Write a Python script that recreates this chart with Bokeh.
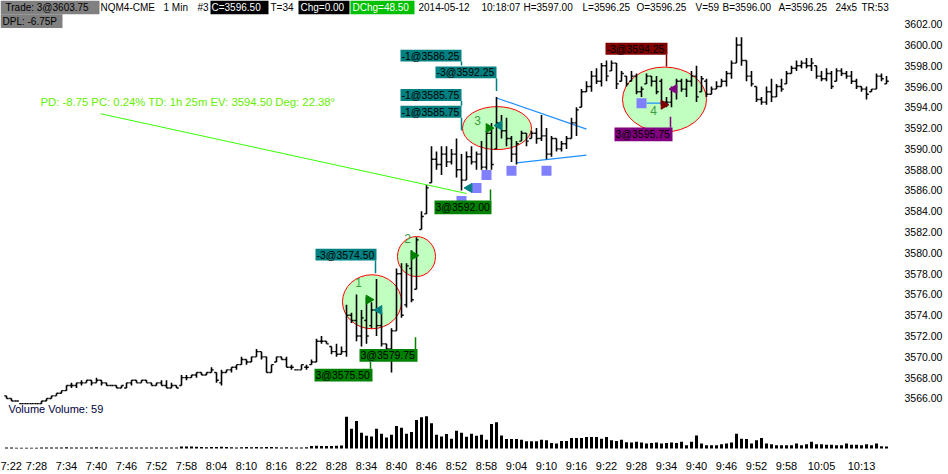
import math
from bokeh.plotting import figure
from bokeh.models import Range1d, FixedTicker, PrintfTickFormatter, Label
from bokeh.embed import file_html
from bokeh.resources import INLINE
from bokeh.core.properties import value

# ---- NQM4 1-minute bars, 7:22 .. 10:18 (bar index 0 = 7:22) ----
highs = [3566.25, 3566.0, 3565.75, 3565.5, 3565.5, 3565.5, 3565.5, 3565.75, 3566.0, 3566.25,
         3566.5, 3566.75, 3567.25, 3567.5, 3567.5, 3567.75, 3567.75, 3567.75, 3568.0, 3567.75,
         3567.5, 3567.25, 3567.25, 3567.25, 3567.5, 3567.75, 3567.75, 3567.75, 3567.75, 3567.5,
         3567.5, 3567.75, 3567.75, 3567.5, 3567.25, 3568.25, 3568.25, 3568.25, 3568.5, 3568.5,
         3568.5, 3569.0, 3568.5, 3568.75, 3568.75, 3569.0, 3569.25, 3570.0, 3569.75, 3570.0,
         3570.75, 3570.5, 3570.0, 3569.25, 3570.0, 3570.0, 3570.0, 3569.25, 3568.75, 3569.25,
         3569.25, 3569.75, 3571.75, 3572.0, 3571.5, 3571.0, 3571.25, 3571.0, 3575.0, 3574.25,
         3576.0, 3574.5, 3575.75, 3575.25, 3577.5, 3574.25, 3571.25, 3572.75, 3578.5, 3579.0,
         3579.0, 3580.25, 3581.5, 3584.0, 3586.5, 3590.25, 3589.75, 3590.25, 3590.25, 3590.0,
         3591.0, 3589.5, 3589.75, 3590.25, 3589.75, 3590.75, 3591.75, 3592.5, 3595.0, 3593.25,
         3593.0, 3591.25, 3590.75, 3591.75, 3591.5, 3591.75, 3592.0, 3593.25, 3592.0, 3591.25,
         3591.0, 3590.75, 3591.25, 3593.0, 3594.0, 3595.75, 3596.5, 3597.5, 3597.75, 3598.25,
         3598.5, 3598.5, 3598.25, 3597.5, 3597.0, 3597.5, 3597.25, 3596.0, 3597.25, 3597.0,
         3597.0, 3596.75, 3595.0, 3596.0, 3596.75, 3596.75, 3596.75, 3597.5, 3598.0, 3597.0,
         3596.75, 3596.0, 3596.5, 3596.75, 3597.5, 3598.5, 3600.75, 3600.75, 3598.5, 3597.5,
         3596.0, 3595.0, 3596.0, 3596.75, 3596.25, 3596.75, 3597.5, 3598.0, 3598.5, 3598.5,
         3598.75, 3598.75, 3598.0, 3597.5, 3597.75, 3597.5, 3597.75, 3597.75, 3597.5, 3597.5,
         3596.75, 3596.0, 3596.0, 3595.75, 3597.25, 3597.25, 3597.0]
lows = [3566.0, 3565.75, 3565.75, 3565.5, 3565.5, 3565.5, 3565.5, 3565.5, 3565.75, 3566.0,
        3566.25, 3566.5, 3566.75, 3567.0, 3567.0, 3567.25, 3567.5, 3567.25, 3567.5, 3567.25,
        3567.25, 3567.25, 3567.0, 3567.0, 3567.0, 3567.25, 3567.5, 3567.5, 3567.5, 3567.25,
        3567.25, 3567.25, 3567.0, 3567.0, 3567.0, 3567.25, 3567.75, 3568.0, 3568.0, 3568.25,
        3568.25, 3568.5, 3567.5, 3567.25, 3568.5, 3568.5, 3568.75, 3569.25, 3569.25, 3569.5,
        3570.0, 3569.75, 3568.5, 3568.5, 3569.5, 3569.75, 3569.0, 3568.75, 3568.75, 3568.75,
        3568.75, 3569.25, 3569.5, 3571.25, 3571.25, 3570.25, 3570.0, 3570.25, 3570.0, 3573.25,
        3571.5, 3571.0, 3571.25, 3572.75, 3572.0, 3571.0, 3570.75, 3568.5, 3572.5, 3573.75,
        3574.75, 3575.25, 3576.5, 3582.25, 3583.75, 3586.75, 3588.0, 3587.5, 3588.25, 3588.5,
        3587.25, 3586.0, 3587.0, 3588.5, 3588.0, 3588.0, 3588.0, 3588.0, 3590.0, 3591.0,
        3590.25, 3588.75, 3588.5, 3590.75, 3590.25, 3591.0, 3590.5, 3590.75, 3589.0, 3589.25,
        3589.75, 3589.75, 3590.0, 3591.0, 3591.25, 3594.0, 3595.5, 3595.5, 3596.25, 3596.0,
        3596.5, 3597.5, 3595.75, 3596.5, 3596.0, 3596.5, 3595.25, 3595.0, 3596.25, 3596.0,
        3595.25, 3594.25, 3594.0, 3594.0, 3594.75, 3595.5, 3595.0, 3596.0, 3594.5, 3595.5,
        3595.0, 3595.25, 3595.75, 3596.0, 3596.0, 3596.75, 3598.25, 3598.0, 3596.5, 3596.0,
        3594.5, 3594.25, 3594.25, 3594.5, 3595.0, 3595.5, 3596.25, 3597.25, 3597.5, 3597.75,
        3597.75, 3597.5, 3596.75, 3596.5, 3596.5, 3595.75, 3596.5, 3597.0, 3596.75, 3596.25,
        3595.75, 3595.5, 3594.75, 3595.5, 3595.75, 3596.5, 3596.25]
opens = [3566.25, 3566.0, 3565.75, 3565.5, 3565.5, 3565.5, 3565.5, 3565.5, 3565.75, 3566.0,
         3566.25, 3566.5, 3566.75, 3567.25, 3567.25, 3567.5, 3567.5, 3567.75, 3567.5, 3567.75,
         3567.5, 3567.25, 3567.25, 3567.0, 3567.0, 3567.5, 3567.75, 3567.5, 3567.75, 3567.5,
         3567.25, 3567.5, 3567.25, 3567.0, 3567.25, 3567.25, 3568.0, 3568.0, 3568.25, 3568.5,
         3568.25, 3568.5, 3568.5, 3567.5, 3568.5, 3568.75, 3569.0, 3569.25, 3569.75, 3569.5,
         3570.0, 3570.5, 3570.0, 3568.5, 3569.5, 3570.0, 3569.75, 3569.0, 3568.75, 3568.75,
         3569.0, 3569.25, 3569.5, 3571.5, 3571.5, 3571.0, 3570.5, 3570.25, 3570.5, 3574.0,
         3573.5, 3572.0, 3573.5, 3573.0, 3574.5, 3573.0, 3571.25, 3570.75, 3572.5, 3578.0,
         3575.0, 3578.5, 3576.5, 3582.25, 3583.75, 3586.75, 3589.0, 3588.5, 3589.5, 3588.75,
         3589.5, 3588.0, 3587.0, 3589.25, 3588.75, 3589.5, 3588.25, 3591.5, 3590.0, 3592.5,
         3591.75, 3591.0, 3589.5, 3590.75, 3591.5, 3591.0, 3591.5, 3591.0, 3591.25, 3589.5,
         3591.0, 3590.0, 3590.5, 3591.0, 3592.5, 3594.0, 3595.5, 3596.0, 3597.0, 3596.5,
         3598.0, 3597.5, 3598.25, 3596.5, 3597.0, 3596.5, 3597.0, 3595.5, 3596.25, 3597.0,
         3596.5, 3596.5, 3594.5, 3594.5, 3595.75, 3596.5, 3595.75, 3596.5, 3597.0, 3595.5,
         3596.5, 3595.25, 3595.75, 3596.0, 3596.5, 3597.25, 3598.25, 3600.0, 3598.5, 3597.0,
         3596.0, 3594.75, 3594.5, 3595.5, 3595.0, 3596.0, 3596.25, 3597.25, 3597.75, 3598.0,
         3598.25, 3598.0, 3598.0, 3597.0, 3596.75, 3597.25, 3596.5, 3597.5, 3597.25, 3597.0,
         3596.5, 3596.0, 3595.75, 3595.5, 3595.75, 3597.0, 3596.25]
closes = [3566.0, 3565.75, 3565.75, 3565.5, 3565.5, 3565.5, 3565.5, 3565.75, 3566.0, 3566.25,
          3566.5, 3566.75, 3567.25, 3567.25, 3567.5, 3567.5, 3567.75, 3567.5, 3567.75, 3567.5,
          3567.25, 3567.25, 3567.0, 3567.25, 3567.5, 3567.75, 3567.5, 3567.75, 3567.5, 3567.25,
          3567.5, 3567.25, 3567.0, 3567.25, 3567.0, 3568.0, 3568.0, 3568.25, 3568.5, 3568.25,
          3568.5, 3568.75, 3567.75, 3568.5, 3568.75, 3569.0, 3569.25, 3569.75, 3569.5, 3570.0,
          3570.5, 3570.0, 3568.5, 3569.25, 3570.0, 3569.75, 3569.0, 3569.0, 3568.75, 3569.25,
          3569.0, 3569.5, 3571.5, 3571.5, 3571.25, 3570.5, 3570.25, 3570.5, 3574.0, 3573.5,
          3572.0, 3573.75, 3572.0, 3574.5, 3573.0, 3571.25, 3570.75, 3572.5, 3578.0, 3574.0,
          3578.75, 3575.5, 3581.25, 3583.5, 3586.25, 3589.0, 3588.5, 3589.5, 3588.75, 3589.5,
          3588.0, 3587.0, 3589.25, 3588.75, 3589.5, 3588.25, 3591.5, 3588.5, 3592.5, 3591.75,
          3591.0, 3589.5, 3590.5, 3591.5, 3590.75, 3591.5, 3591.0, 3591.25, 3589.5, 3591.0,
          3590.0, 3590.5, 3591.0, 3592.5, 3593.75, 3595.5, 3596.0, 3597.0, 3596.5, 3598.0,
          3597.0, 3598.25, 3596.25, 3597.25, 3596.25, 3597.0, 3595.5, 3595.75, 3597.0, 3596.5,
          3595.5, 3594.5, 3594.5, 3595.75, 3596.5, 3595.75, 3596.5, 3597.0, 3595.0, 3596.75,
          3595.25, 3595.75, 3596.0, 3596.5, 3597.25, 3598.25, 3600.0, 3598.5, 3597.0, 3596.25,
          3594.75, 3594.5, 3595.5, 3595.0, 3596.0, 3595.75, 3597.25, 3597.75, 3598.0, 3598.25,
          3598.0, 3598.25, 3597.0, 3596.75, 3597.25, 3596.0, 3597.5, 3597.25, 3597.0, 3596.5,
          3596.0, 3595.75, 3595.25, 3595.75, 3597.0, 3596.75, 3596.5]
volumes = [30, 28, 25, 20, 20, 22, 25, 30, 28, 30,
           32, 30, 35, 30, 28, 30, 32, 30, 35, 30,
           28, 25, 30, 28, 30, 32, 30, 28, 30, 28,
           30, 32, 30, 28, 30, 55, 60, 55, 50, 45,
           35, 40, 45, 50, 40, 35, 30, 35, 40, 35,
           40, 35, 45, 40, 35, 30, 35, 30, 28, 30,
           35, 70, 80, 75, 70, 75, 80, 85, 900, 560,
           780, 450, 360, 340, 560, 420, 310, 390, 640, 590,
           420, 470, 810, 890, 915, 720, 390, 345, 410, 280,
           505, 450, 335, 420, 365, 390, 250, 700, 750, 370,
           270, 270, 270, 250, 205, 205, 205, 250, 235, 160,
           140, 215, 215, 300, 300, 300, 330, 330, 330, 280,
           330, 235, 215, 250, 175, 170, 190, 170, 140, 160,
           170, 140, 160, 170, 160, 190, 95, 190, 370, 140,
           95, 95, 95, 120, 140, 170, 420, 280, 270, 140,
           235, 300, 140, 120, 95, 95, 95, 95, 140, 95,
           120, 190, 120, 120, 110, 110, 95, 95, 140, 110,
           110, 95, 120, 95, 140, 65, 59]
idx = list(range(len(highs)))

time_ticks = [0, 6, 12, 18, 24, 30, 36, 42, 48, 54, 60, 66, 72, 78, 84, 90, 96, 102,
              108, 114, 120, 126, 132, 138, 144, 150, 156, 163, 171]
time_labels = ["7:22", "7:28", "7:34", "7:40", "7:46", "7:52", "7:58", "8:04", "8:10",
               "8:16", "8:22", "8:28", "8:34", "8:40", "8:46", "8:52", "8:58", "9:04",
               "9:10", "9:16", "9:22", "9:28", "9:34", "9:40", "9:46", "9:52", "9:58",
               "10:05", "10:13"]
price_ticks = [3566, 3568, 3570, 3572, 3574, 3576, 3578, 3580, 3582, 3584, 3586, 3588,
               3590, 3592, 3594, 3596, 3598, 3600, 3602]

# trade fills: bar index, price, colour, side (+1 arrow -> on open side, -1 arrow <- on close side)
fill_idx = [73, 74, 82, 97, 98, 92, 132, 133]
fill_price = [3575.50, 3574.50, 3579.75, 3592.00, 3592.25, 3586.25, 3594.25, 3595.75]
fill_color = ["#008000", "#008080", "#008000", "#008000", "#008080", "#008080", "#800000", "#800080"]
fill_side = [1, -1, 1, 1, -1, -1, 1, -1]

# swing-low markers
mark_idx = [91, 94, 96, 101, 108, 127]
mark_price = [3585.0, 3586.25, 3587.5, 3587.9, 3587.9, 3594.4]

# trade zones (centre index, centre price, size in px)
zone_idx = [73.1, 82.0, 98.1, 131.6]
zone_price = [3575.3, 3579.65, 3592.0, 3594.75]
zone_w = [59, 38, 69, 84]
zone_h = [54, 40, 43, 65]
zone_num = ["1", "2", "3", "4"]

FONT = value("Liberation Sans")
FS = "11px"
FS_S = "10px"

# ---- frame geometry: 5 px per bar, 10.56 px per point ----
BAR_PX = 5.0
PT_PX = 10.56
FRAME_W, FRAME_H = 890, 456
X_LEFT = -1.2
P_TOP = 3602 + 24 / PT_PX


def ix(px):
    return X_LEFT + px / BAR_PX


def pr(py):
    return P_TOP - py / PT_PX


p = figure(width=948, height=474, output_backend="svg", toolbar_location=None,
           x_range=Range1d(X_LEFT, X_LEFT + FRAME_W / BAR_PX),
           y_range=Range1d(pr(FRAME_H), P_TOP),
           y_axis_location="right",
           min_border_left=0, min_border_top=0, min_border_right=948 - FRAME_W,
           min_border_bottom=474 - FRAME_H)
p.outline_line_color = None
p.grid.visible = False
p.background_fill_color = "white"
p.border_fill_color = "white"

# price axis
p.yaxis.ticker = FixedTicker(ticks=price_ticks)
p.yaxis.formatter = PrintfTickFormatter(format="%.2f")
p.yaxis.axis_line_color = None
p.yaxis.major_tick_line_color = None
p.yaxis.minor_tick_line_color = None
p.yaxis.major_label_standoff = 8
p.yaxis.major_label_text_font = "Liberation Sans"
p.yaxis.major_label_text_font_size = "10.5px"
p.yaxis.major_label_text_color = "black"

# time axis
p.xaxis.ticker = FixedTicker(ticks=time_ticks)
p.xaxis.major_label_overrides = {t: l for t, l in zip(time_ticks, time_labels)}
p.xaxis.axis_line_color = None
p.xaxis.major_tick_line_color = None
p.xaxis.minor_tick_line_color = None
p.xaxis.major_label_standoff = 4
p.xaxis.major_label_text_font = "Liberation Sans"
p.xaxis.major_label_text_font_size = FS
p.xaxis.major_label_text_color = "black"

# volume pane shares the frame through its own range (0 sits 1 px above the frame bottom)
VOL_PX = 28.0
p.extra_y_ranges = {"vol": Range1d(-VOL_PX, -VOL_PX + FRAME_H * VOL_PX)}
p.vbar(x=idx, top=volumes, bottom=0, width=0.6, y_range_name="vol",
       fill_color="black", line_color=None)

# trade zones
p.ellipse(x=zone_idx, y=zone_price, width=zone_w, height=zone_h,
          width_units="screen", height_units="screen",
          fill_color="#c0ffc0", line_color="#ff0000", line_width=1)
num_px = [(358, 286), (407, 242), (477, 122), (653, 112)]
p.text(x=[ix(a) for a, b in num_px], y=[pr(b) for a, b in num_px], text=zone_num,
       text_font=FONT, text_font_size="12px", text_color="#3c9c3c",
       text_align="center", text_baseline="middle")

# trend lines
p.line([ix(100), ix(466)], [pr(115), pr(196)], line_color="#33ff00", line_width=1)
p.line([98, 116], [3594.9, 3591.9], line_color="#1e90ff", line_width=1.2)
p.line([102, 116], [3588.65, 3589.4], line_color="#1e90ff", line_width=1.2)
p.line([128, 132.4], [3594.4, 3594.4], line_color="#1e90ff", line_width=1.2)
p.text(x=[ix(40)], y=[pr(103)],
       text=["PD: -8.75  PC: 0.24%  TD: 1h 25m  EV: 3594.50  Deg: 22.38°"],
       text_font=FONT, text_font_size="11.3px", text_color="#66ee00",
       text_align="left", text_baseline="middle")

# OHLC bars
p.segment(x0=idx, y0=lows, x1=idx, y1=highs, line_color="black", line_width=1.6)
p.segment(x0=[i - 0.45 for i in idx], y0=opens, x1=idx, y1=opens, line_color="black", line_width=1.4)
p.segment(x0=idx, y0=closes, x1=[i + 0.45 for i in idx], y1=closes, line_color="black", line_width=1.4)

# swing-low squares
p.scatter(x=mark_idx, y=mark_price, marker="square", size=10,
          fill_color="#8080ff", line_color=None)

# fills as arrows next to the bar
fx = [i - 0.55 * s for i, s in zip(fill_idx, fill_side)]
fa = [-math.pi / 2 if s > 0 else math.pi / 2 for s in fill_side]
p.scatter(x=fx, y=fill_price, marker="triangle", size=9, angle=fa,
          fill_color=fill_color, line_color=fill_color)

# order tags: text, colour, box px (x0, x1, y0, y1), connector px (x, y0, y1)
tags = [
    ("-1@3586.25", "#008080", (400, 461, 50, 62), (461, 62, 66)),
    ("-3@3592.25", "#008080", (435, 496, 67, 79), (496, 79, 92)),
    ("-1@3585.75", "#008080", (400, 461, 90, 102), (461, 102, 107)),
    ("-1@3585.75", "#008080", (400, 461, 107, 119), (461, 119, 132)),
    ("-3@3574.50", "#008080", (315, 376, 252, 264), (375, 264, 277)),
    ("3@3579.75", "#008000", (359, 417, 354, 367), (415, 342, 354)),
    ("3@3575.50", "#008000", (314, 372, 374, 387), (370, 367, 374)),
    ("3@3592.00", "#008000", (434, 491, 203, 217), (490, 192, 203)),
    ("-3@3594.25", "#800000", (605, 667, 43, 55), (666, 55, 67)),
    ("3@3595.75", "#800080", (614, 672, 129, 143), (670, 118, 129)),
]
p.segment(x0=[ix(c[0]) for _, _, _, c in tags], y0=[pr(c[1]) for _, _, _, c in tags],
          x1=[ix(c[0]) for _, _, _, c in tags], y1=[pr(c[2]) for _, _, _, c in tags],
          line_color=[t[1] for t in tags], line_width=1.5)
p.quad(left=[ix(b[0]) for _, _, b, _ in tags], right=[ix(b[1]) for _, _, b, _ in tags],
       top=[pr(b[2]) for _, _, b, _ in tags], bottom=[pr(b[3]) for _, _, b, _ in tags],
       fill_color=[t[1] for t in tags], line_color=None)
p.text(x=[ix(b[0] + 1) for _, _, b, _ in tags], y=[pr((b[2] + b[3]) / 2) for _, _, b, _ in tags],
       text=[t[0] for t in tags], text_font=FONT, text_font_size="10.5px", text_color="black",
       text_align="left", text_baseline="middle")

# header strip
hdr_boxes = [(0, 99, 0, 14, "#808080"), (210, 268, 0, 14, "black"), (298, 349, 0, 14, "black"),
             (350, 414, 0, 14, "#00c000"), (0, 62, 14, 28, "#808080")]
p.quad(left=[ix(b[0]) for b in hdr_boxes], right=[ix(b[1]) for b in hdr_boxes],
       top=[pr(b[2]) for b in hdr_boxes], bottom=[pr(b[3]) for b in hdr_boxes],
       fill_color=[b[4] for b in hdr_boxes], line_color=None)
hdr_text = [
    (5, 7, "Trade: 3@3603.75", "black"),
    (100, 7, "NQM4-CME", "black"),
    (163, 7, "1 Min", "black"),
    (197, 7, "#3", "black"),
    (211, 7, "C=3596.50", "white"),
    (270, 7, "T=34", "black"),
    (300, 7, "Chg=0.00", "white"),
    (352, 7, "DChg=48.50", "white"),
    (418, 7, "2014-05-12", "black"),
    (481, 7, "10:18:07", "black"),
    (523, 7, "H=3597.00", "black"),
    (582, 7, "L=3596.25", "black"),
    (636, 7, "O=3596.25", "black"),
    (695, 7, "V=59", "black"),
    (722, 7, "B=3596.00", "black"),
    (778, 7, "A=3596.25", "black"),
    (835, 7, "24x5", "black"),
    (861, 7, "TR:53", "black"),
    (2, 21, "DPL: -6.75P", "black"),
]
p.text(x=[ix(t[0]) for t in hdr_text], y=[pr(t[1]) for t in hdr_text], text=[t[2] for t in hdr_text],
       text_color=[t[3] for t in hdr_text], text_font=FONT, text_font_size=FS_S,
       text_align="left", text_baseline="middle")
p.text(x=[ix(8)], y=[pr(415)], text=["Volume  Volume: 59"], text_color="#000040",
       text_font=FONT, text_font_size=FS, text_align="left", text_baseline="middle")

# last price tag on the price scale
p.add_layout(Label(x=ix(897), y=closes[-1], text="%.2f" % closes[-1], text_font="Liberation Sans",
                   text_font_size="10.5px", text_color="white", background_fill_color="black",
                   text_baseline="middle", padding=1))

open("out.html", "w").write(file_html(p, INLINE))
